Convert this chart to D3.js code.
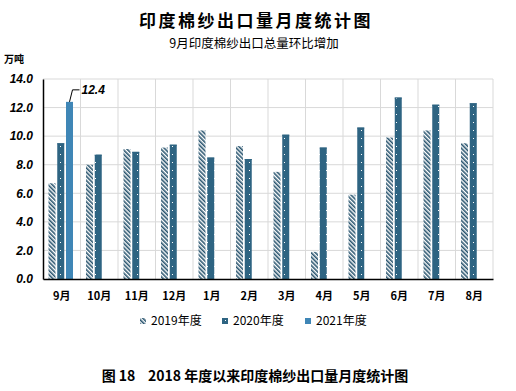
<!DOCTYPE html>
<html>
<head>
<meta charset="utf-8">
<script src="https://cdn.jsdelivr.net/npm/d3@7"></script>
<style>
  body { margin: 0; background: #fff; }
  text { font-family: "Liberation Sans", Arial, sans-serif; }
</style>
</head>
<body>
<script>
// data
const months = ['9月', '10月', '11月', '12月', '1月', '2月', '3月', '4月', '5月', '6月', '7月', '8月']
const series = ['2019年度', '2020年度', '2021年度']
const v2019 = [6.7, 8.0, 9.1, 9.2, 10.4, 9.3, 7.5, 1.9, 5.9, 9.9, 10.4, 9.5]
const v2020 = [9.5, 8.7, 8.9, 9.4, 8.5, 8.4, 10.1, 9.2, 10.6, 12.7, 12.2, 12.3]
const v2021 = [12.4, null, null, null, null, null, null, null, null, null, null, null]
const yTicks = [0, 2, 4, 6, 8, 10, 12, 14]

const margin = {top: 79, left: 43, right: 23, bottom: 112}
const width = 516 - margin.left - margin.right
const height = 391 - margin.top - margin.bottom

const svg = d3.select('body').append('svg')
  .attr('width', 516)
  .attr('height', 391)

// fill patterns
const defs = svg.append('defs')
const hatch = defs.append('pattern').attr('id', 'hatch')
  .attr('patternUnits', 'userSpaceOnUse').attr('width', 3).attr('height', 3)
  .attr('patternTransform', 'rotate(-45)')
hatch.append('rect').attr('width', 3).attr('height', 3).attr('fill', '#fff')
hatch.append('rect').attr('width', 1.6).attr('height', 3).attr('fill', '#2b5670')

const dots = defs.append('pattern').attr('id', 'dots')
  .attr('patternUnits', 'userSpaceOnUse').attr('width', 7).attr('height', 8)
dots.append('rect').attr('width', 7).attr('height', 8).attr('fill', '#2e6482')
dots.append('rect').attr('x', 3).attr('y', 3).attr('width', 1).attr('height', 1).attr('fill', '#fff')

const fills = ['url(#hatch)', 'url(#dots)', '#3f86b6']

// titles
svg.append('text').attr('x', 256).attr('y', 27).attr('text-anchor', 'middle')
  .style('font-family', '"Noto Sans CJK SC"').style('font-weight', 'bold')
  .style('font-size', '17px').style('letter-spacing', '2.5px').text('印度棉纱出口量月度统计图')
svg.append('text').attr('x', 254).attr('y', 48).attr('text-anchor', 'middle')
  .style('font-family', '"Noto Sans CJK SC"').style('font-size', '12.5px')
  .text('9月印度棉纱出口总量环比增加')
svg.append('text').attr('x', 4).attr('y', 63)
  .style('font-family', '"Noto Sans CJK SC"').style('font-weight', 'bold')
  .style('font-size', '10px').text('万吨')

const g = svg.append('g').attr('transform', `translate(${margin.left},${margin.top})`)

const x0 = d3.scaleBand().domain(months).range([0, width])
const x1 = d3.scaleBand().domain(series).range([5.5, 30]).paddingInner(0.2)
const y = d3.scaleLinear().domain([0, 14]).range([height, 0])

// gridlines
g.append('g').selectAll('line.h').data(yTicks.slice(1)).join('line')
  .attr('x1', 0).attr('x2', width)
  .attr('y1', d => y(d)).attr('y2', d => y(d))
  .attr('stroke', '#d9d9d9')
g.append('g').selectAll('line.v').data(months.slice(1).concat(['end'])).join('line')
  .attr('x1', (d, i) => x0.step() * (i + 1)).attr('x2', (d, i) => x0.step() * (i + 1))
  .attr('y1', 0).attr('y2', height)
  .attr('stroke', '#d9d9d9')

// bars
const allVals = [v2019, v2020, v2021]
series.forEach((s, si) => {
  g.append('g').selectAll('rect')
    .data(months.map((m, i) => ({m, v: allVals[si][i]})).filter(d => d.v != null))
    .join('rect')
    .attr('x', d => x0(d.m) + x1(s))
    .attr('y', d => y(d.v))
    .attr('width', x1.bandwidth())
    .attr('height', d => height - y(d.v))
    .attr('fill', fills[si])
  if (si == 1) {
    // thin solid cap on dotted bars
    g.append('g').selectAll('line')
      .data(months.map((m, i) => ({m, v: allVals[si][i]})))
      .join('line')
      .attr('x1', d => x0(d.m) + x1(s)).attr('x2', d => x0(d.m) + x1(s) + x1.bandwidth())
      .attr('y1', d => y(d.v) + 0.5).attr('y2', d => y(d.v) + 0.5)
      .attr('stroke', '#2e6482')
  }
})

// label for 2021
const lx = x0(months[0]) + x1(series[2]) + x1.bandwidth() / 2
g.append('path')
  .attr('d', `M${lx},${y(v2021[0])} L${lx + 3},${y(v2021[0]) - 12} L${lx + 10},${y(v2021[0]) - 12}`)
  .attr('fill', 'none').attr('stroke', '#000').attr('stroke-width', 1)
g.append('text').attr('x', lx + 12).attr('y', y(v2021[0]) - 8)
  .style('font-weight', 'bold').style('font-style', 'italic').style('font-size', '12px')
  .text(v2021[0].toFixed(1))

// axes
const yAxis = g.append('g').call(d3.axisLeft(y).tickValues(yTicks).tickFormat(d3.format('.1f')).tickSize(0).tickPadding(10))
yAxis.select('.domain').attr('stroke', '#000').attr('stroke-width', 1.5)
yAxis.selectAll('text').style('font-weight', 'bold').style('font-style', 'italic')
  .style('font-size', '12px').attr('fill', '#000')

const xAxis = g.append('g').attr('transform', `translate(0,${height})`)
  .call(d3.axisBottom(x0).tickSize(0).tickPadding(13))
xAxis.select('.domain').attr('stroke', '#000').attr('stroke-width', 1.5)
xAxis.selectAll('text').style('font-family', '"Noto Sans CJK SC"').style('font-weight', 'bold')
  .style('font-size', '11px').attr('fill', '#000')

// legend
const legX = [140, 222, 305]
const leg = svg.append('g').selectAll('g').data(series).join('g')
  .attr('transform', (d, i) => `translate(${legX[i]},325)`)
leg.append('rect').attr('x', 0).attr('y', -7).attr('width', 6).attr('height', 6)
  .attr('fill', (d, i) => fills[i])
leg.append('text').attr('x', 11).attr('y', 0)
  .style('font-family', '"Noto Sans CJK SC"').style('font-size', '12px').text(d => d)

// caption
svg.append('text').attr('x', 255).attr('y', 381).attr('text-anchor', 'middle')
  .style('font-family', '"Noto Sans CJK SC"').style('font-weight', 'bold').style('font-size', '14px')
  .style('white-space', 'pre')
  .text('图 18    2018 年度以来印度棉纱出口量月度统计图')
</script>
</body>
</html>
